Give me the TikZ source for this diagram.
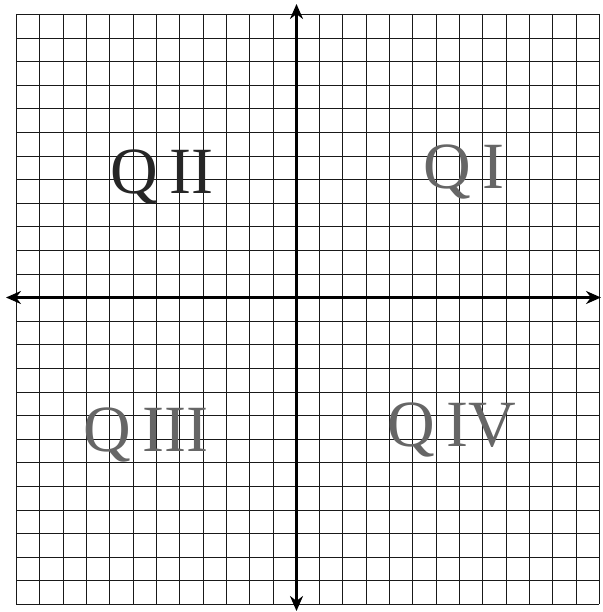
\documentclass[tikz,border=0pt]{standalone}
\usepackage{fontspec}
\setmainfont{Liberation Serif}
\usetikzlibrary{arrows.meta}
\tikzset{
  gridline/.style={line width=1.4pt, black!90},
  axisline/.style={line width=2.4pt, black, {Stealth[length=15pt,width=13pt]}-{Stealth[length=15pt,width=13pt]}},
  quadlabel/.style={font=\fontsize{66}{66}\selectfont, inner sep=0pt, anchor=center},
}
\begin{document}
\begin{tikzpicture}[x=1pt,y=-1pt]
\useasboundingbox (0,0) rectangle (602,612);
% grid: 25 x 25 cells
\foreach \i in {0,...,25}{
  \pgfmathsetmacro{\gx}{round(16+\i*23.32)+0.5}
  \pgfmathsetmacro{\gy}{round(14+\i*23.6)+0.5}
  \draw[gridline] (\gx,14) -- (\gx,604);
  \draw[gridline] (16,\gy) -- (599,\gy);
}
% axes
\coordinate (ytop) at (296.5,4);
\coordinate (ybot) at (296.5,611);
\coordinate (xleft) at (6,297.5);
\coordinate (xright) at (601,297.5);
\draw[axisline] (ybot) -- (ytop);
\draw[axisline] (xleft) -- (xright);
% quadrant labels
\node[quadlabel, text=black!85] (q2) at (162,177) {Q\,II};
\node[quadlabel, text=black!60] (q1) at (464,172) {Q\,I};
\node[quadlabel, text=black!60] (q3) at (146,435) {Q\,III};
\node[quadlabel, text=black!60] (q4) at (452,430) {Q\,IV};
\end{tikzpicture}
\end{document}
